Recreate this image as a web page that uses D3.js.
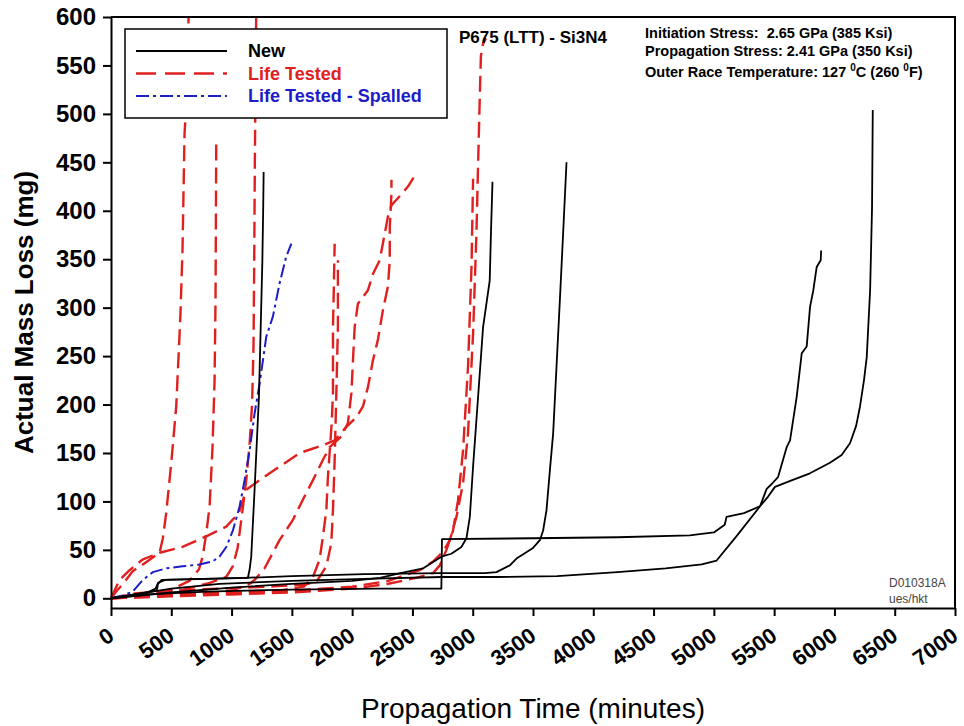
<!DOCTYPE html>
<html lang="en">
<head>
<meta charset="utf-8"/>
<title>P675 (LTT) - Si3N4 mass loss</title>
<script src="https://d3js.org/d3.v7.min.js"></script>
<style>
  body { margin: 0; background: #fff; }
  svg { font-family: Arial, "Liberation Sans", sans-serif; }
  .axis .domain { stroke: #000; stroke-width: 2px; }
  .axis .tick line { stroke: #000; stroke-width: 2px; }
  .axis text { fill: #000; font-weight: bold; }
</style>
</head>
<body>
<div id="chart"></div>
<script>
// tick values
var xTicks = [0, 500, 1000, 1500, 2000, 2500, 3000, 3500, 4000, 4500, 5000, 5500, 6000, 6500, 7000];
var yTicks = [0, 50, 100, 150, 200, 250, 300, 350, 400, 450, 500, 550, 600];

// legend categories
var categories = ["New", "Life Tested", "Life Tested - Spalled"];

// "New" bearings (minutes, mg)
var newA = [[0,0],[300,4],[800,7],[1500,9],[2200,10],[2740,10],[2745,61],[3500,62],[4200,63],[4800,65],[5000,68],[5090,76],[5105,84],[5250,88],[5383,95],[5450,105],[5507,115],[5650,122],[5797,129],[5963,140],[6060,148],[6129,160],[6180,178],[6212,198],[6245,225],[6268,249],[6296,318],[6312,404],[6318,504]];
var newB = [[0,0],[200,4],[500,10],[900,15],[1500,18],[2100,20],[2740,22],[3200,22],[3700,23],[4200,27],[4600,31],[4900,35],[5023,39],[5200,66],[5383,95],[5438,113],[5480,118],[5532,125],[5604,156],[5632,163],[5687,208],[5729,253],[5770,260],[5798,301],[5825,318],[5853,342],[5886,349],[5890,359]];
var newC = [[0,0],[150,3],[300,6],[370,10],[390,16],[450,19],[800,20],[1135,21],[1150,30],[1163,43],[1190,110],[1227,208],[1255,346],[1262,400],[1266,440]];
var newD = [[0,0],[500,6],[1000,11],[1500,15],[2000,18],[2231,21],[2400,26],[2590,31],[2740,43],[2823,46],[2906,53],[2948,62],[2976,84],[3003,136],[3040,200],[3086,280],[3141,328],[3152,380],[3164,430]];
var newE = [[0,0],[250,5],[380,8],[390,15],[420,19],[1100,21],[1500,23],[2100,25],[2740,26],[3100,26],[3197,27],[3308,34],[3363,41],[3500,52],[3557,60],[3584,70],[3612,91],[3640,132],[3667,170],[3695,239],[3723,308],[3750,377],[3778,450]];

// "Life Tested" bearings
var lifeA = [[0,0],[50,8],[100,15],[180,28],[300,38],[403,47],[430,62],[458,88],[500,140],[541,198],[575,290],[593,359],[610,480],[629,520],[645,610]];
var lifeB = [[0,0],[300,4],[500,9],[650,18],[730,30],[760,43],[790,67],[818,95],[842,156],[859,225],[867,308],[873,473]];
var lifeC = [[0,0],[300,5],[600,9],[820,16],[955,22],[1010,33],[1050,52],[1091,91],[1122,122],[1150,160],[1170,200],[1182,260],[1188,350],[1193,450],[1198,520],[1205,610]];
var lifeD = [[0,0],[300,3],[700,5],[1100,6],[1400,8],[1600,12],[1675,22],[1730,40],[1758,64],[1786,91],[1799,125],[1813,150],[1830,180],[1841,212],[1841,280],[1848,320],[1855,366]];
var lifeE = [[0,0],[200,5],[500,8],[900,10],[1300,12],[1600,14],[1703,17],[1786,33],[1827,57],[1841,91],[1855,143],[1869,212],[1882,280],[1882,349]];
var lifeF = [[0,0],[71,19],[154,29],[261,40],[403,47],[593,53],[790,64],[956,74],[1060,88],[1122,112],[1233,122],[1398,136],[1565,150],[1758,158],[1855,163],[1952,177],[2035,187],[2090,198],[2131,218],[2173,246],[2214,267],[2256,298],[2297,322],[2312,349],[2312,383],[2326,418],[2326,432]];
var lifeG = [[0,0],[400,2],[800,5],[1000,8],[1150,15],[1191,19],[1274,31],[1398,60],[1509,81],[1592,102],[1675,122],[1758,143],[1813,156],[1911,167],[1965,181],[1994,212],[2007,246],[2021,280],[2048,304],[2131,318],[2173,335],[2229,349],[2297,394],[2328,406],[2394,415],[2463,425],[2533,439]];
var lifeH = [[0,0],[400,3],[900,5],[1500,8],[2000,12],[2300,18],[2561,29],[2671,38],[2754,48],[2810,60],[2865,84],[2920,119],[2961,170],[3003,273],[3031,377],[3044,445],[3058,514],[3068,560],[3085,572],[3110,578]];
var lifeI = [[0,0],[500,2],[1000,4],[1500,6],[2000,10],[2300,15],[2561,22],[2671,26],[2727,34],[2782,50],[2837,70],[2878,101],[2920,153],[2961,239],[2990,342],[3003,433]];

// "Life Tested - Spalled" bearing
var spalledA = [[0,0],[100,3],[181,7],[264,19],[347,27],[458,31],[593,33],[735,35],[842,38],[900,43],[956,53],[1011,70],[1067,95],[1108,122],[1150,153],[1190,190],[1233,222],[1288,270],[1343,291],[1398,325],[1454,353],[1496,366]];

var width = 964, height = 726;
var red = "#e0201e", blue = "#1c1cc8";

var svg = d3.select("#chart").append("svg")
	.attr("width", width)
	.attr("height", height);

var x = d3.scaleLinear().domain([0, 7000]).range([111, 955]);
var y = d3.scaleLinear().domain([-10, 600]).range([608, 17]);

var styles = [
	{ color: "#000", dash: null, width: 1.8 },
	{ color: red, dash: "16,7", width: 2.4 },
	{ color: blue, dash: "13,4,3,4", width: 2 }
];

var series = [
	{ cat: 1, data: lifeA }, { cat: 1, data: lifeB }, { cat: 1, data: lifeC },
	{ cat: 1, data: lifeD }, { cat: 1, data: lifeE }, { cat: 1, data: lifeF },
	{ cat: 1, data: lifeG }, { cat: 1, data: lifeH }, { cat: 1, data: lifeI },
	{ cat: 2, data: spalledA },
	{ cat: 0, data: newA }, { cat: 0, data: newB }, { cat: 0, data: newC },
	{ cat: 0, data: newD }, { cat: 0, data: newE }
];

svg.append("clipPath").attr("id", "plot")
  .append("rect")
	.attr("x", x(0) - 2).attr("y", y(600))
	.attr("width", x(7000) - x(0) + 2).attr("height", y(-10) - y(600));

var line = d3.line()
	.x(function(d) { return x(d[0]); })
	.y(function(d) { return y(d[1]); });

svg.append("g")
	.attr("clip-path", "url(#plot)")
  .selectAll("path")
	.data(series)
	.enter().append("path")
	.attr("d", function(d) { return line(d.data); })
	.attr("fill", "none")
	.attr("stroke", function(d) { return styles[d.cat].color; })
	.attr("stroke-width", function(d) { return styles[d.cat].width; })
	.attr("stroke-dasharray", function(d) { return styles[d.cat].dash; })
	.attr("stroke-linejoin", "round");

// axes
var gx = svg.append("g")
	.attr("class", "axis")
	.attr("transform", "translate(0," + y(-10) + ")")
	.call(d3.axisBottom(x).tickValues(xTicks).tickFormat(d3.format("d")).tickSize(8).tickSizeOuter(0));
gx.selectAll("text")
	.attr("font-size", 22)
	.attr("text-anchor", "end")
	.attr("y", 0).attr("dy", 0)
	.attr("transform", "translate(4,31) rotate(-35)");

var gy = svg.append("g")
	.attr("class", "axis")
	.attr("transform", "translate(" + x(0) + ",0)")
	.call(d3.axisLeft(y).tickValues(yTicks).tickSize(8).tickSizeOuter(0).tickPadding(7));
gy.selectAll("text").attr("font-size", 24);

// frame top and right
svg.append("path")
	.attr("d", "M" + x(0) + "," + y(600) + "H" + x(7000) + "V" + y(-10))
	.attr("fill", "none").attr("stroke", "#000").attr("stroke-width", 2);

// axis titles
svg.append("text")
	.attr("transform", "translate(33," + (y(-10) + y(600)) / 2 + ") rotate(-90)")
	.attr("text-anchor", "middle")
	.attr("font-size", 26).attr("font-weight", "bold")
	.text("Actual Mass Loss (mg)");

svg.append("text")
	.attr("x", 533).attr("y", 718)
	.attr("text-anchor", "middle")
	.attr("font-size", 28)
	.text("Propagation Time (minutes)");

// legend
var legend = svg.append("g").attr("transform", "translate(125,29)");
legend.append("rect")
	.attr("width", 322).attr("height", 89)
	.attr("fill", "#fff").attr("stroke", "#000").attr("stroke-width", 1.5);
var item = legend.selectAll("g.item")
	.data(categories)
	.enter().append("g")
	.attr("class", "item")
	.attr("transform", function(d, i) { return "translate(0," + (22 + i * 22.5) + ")"; });
item.append("line")
	.attr("x1", 11).attr("x2", 102)
	.attr("stroke", function(d, i) { return styles[i].color; })
	.attr("stroke-width", function(d, i) { return styles[i].width; })
	.attr("stroke-dasharray", function(d, i) { return i == 1 ? "20,9" : styles[i].dash; });
item.append("text")
	.attr("x", 123).attr("dy", "0.35em")
	.attr("font-size", 18).attr("font-weight", "bold")
	.attr("fill", function(d, i) { return styles[i].color; })
	.text(function(d) { return d; });

// annotations
svg.append("text")
	.attr("x", 459).attr("y", 43)
	.attr("font-size", 17).attr("font-weight", "bold")
	.text("P675 (LTT) - Si3N4");

var notes = svg.append("g").attr("font-size", 14.5).attr("font-weight", "bold");
notes.append("text").attr("x", 645).attr("y", 38).attr("xml:space", "preserve")
	.text("Initiation Stress:  2.65 GPa (385 Ksi)");
notes.append("text").attr("x", 645).attr("y", 56)
	.text("Propagation Stress: 2.41 GPa (350 Ksi)");
var t3 = notes.append("text").attr("x", 645).attr("y", 77);
t3.append("tspan").text("Outer Race Temperature: 127 ");
t3.append("tspan").attr("dy", -6).attr("font-size", 10).text("0");
t3.append("tspan").attr("dy", 6).text("C (260 ");
t3.append("tspan").attr("dy", -6).attr("font-size", 10).text("0");
t3.append("tspan").attr("dy", 6).text("F)");

var stamp = svg.append("g").attr("font-size", 12).attr("fill", "#444");
stamp.append("text").attr("x", 889).attr("y", 587).text("D010318A");
stamp.append("text").attr("x", 889).attr("y", 603).text("ues/hkt");
</script>
</body>
</html>
